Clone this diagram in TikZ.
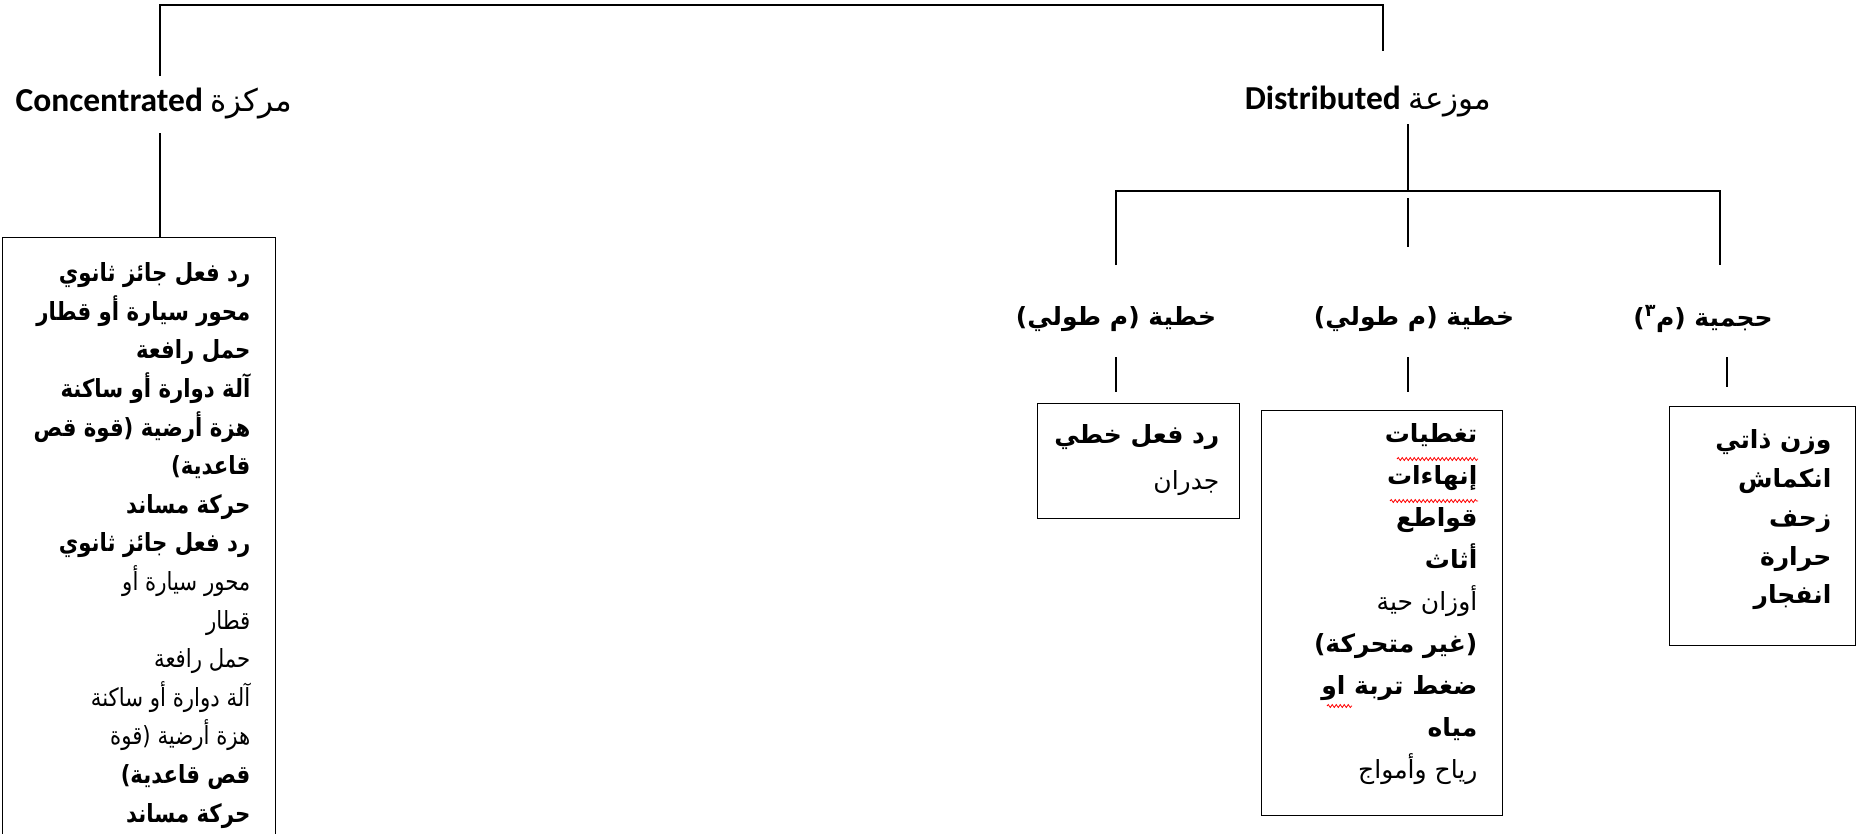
\documentclass[tikz,border=0pt]{standalone}
\usepackage{fontspec}
\setmainfont{Carlito}
\newfontfamily\arfont[Script=Arabic]{DejaVu Sans}
\newfontfamily\arnarrow[Script=Arabic, FakeStretch=0.85]{DejaVu Sans}
\TeXXeTstate=1
\usetikzlibrary{positioning,decorations.pathmorphing}
\newcommand\rl[1]{\beginR#1\endR}
\newcommand\headar[1]{{\arfont\mdseries\fontsize{31}{33}\selectfont\rl{#1}}}

\tikzset{
  head/.style={inner sep=0pt, font=\bfseries\fontsize{33.5}{38}\selectfont},
  tag/.style={inner sep=0pt, font=\arfont\bfseries\fontsize{25}{30}\selectfont},
  listbox/.style={draw, anchor=north west, inner sep=0pt},
  items/.style={inner sep=0pt, anchor=north east, align=right,
    font=\arfont\fontsize{25}{#1}\selectfont},
  items/.default=38,
  spell/.style={red, line width=0.8pt, decorate,
    decoration={snake, amplitude=1.5pt, segment length=4pt}},
}

\begin{document}
\begin{tikzpicture}[x=1pt, y=-1pt, line width=1.3pt]
	\useasboundingbox (0,0) rectangle (1858,833);
	
	% headings
	\node[head] (conc) at (154,104) {Concentrated \headar{مركزة}};
	\node[head] (dist) at (1368,102) {Distributed \headar{موزعة}};
	
	% kinds of distributed load
	\node[tag] (lin1) at (1116,319) {\rl{خطية (م طولي)}};
	\node[tag] (lin2) at (1414,319) {\rl{خطية (م طولي)}};
	\node[tag] (vol) at (1703,319) {\rl{حجمية (م\textsuperscript{٣})}};
	
	% boxes
	\node[listbox, minimum width=273pt, minimum height=640pt] (concbox) at (2,237) {};
	\node[listbox, minimum width=202pt, minimum height=115pt] (linbox1) at (1037,403) {};
	\node[listbox, minimum width=241pt, minimum height=405pt] (linbox2) at (1261,410) {};
	\node[listbox, minimum width=186pt, minimum height=239pt] (volbox) at (1669,406) {};
	
	\node[items, font={\arnarrow\fontsize{25}{38.6}\selectfont}] (conclist) at (251,262) {%
		\textbf{\rl{رد فعل جائز ثانوي}}\\
		\textbf{\rl{محور سيارة أو قطار}}\\
		\textbf{\rl{حمل رافعة}}\\
		\textbf{\rl{آلة دوارة أو ساكنة}}\\
		\textbf{\rl{هزة أرضية (قوة قص}}\\
		\textbf{\rl{قاعدية)}}\\
		\textbf{\rl{حركة مساند}}\\
		\textbf{\rl{رد فعل جائز ثانوي}}\\
		\rl{محور سيارة أو}\\
		\rl{قطار}\\
		\rl{حمل رافعة}\\
		\rl{آلة دوارة أو ساكنة}\\
		\rl{هزة أرضية (قوة}\\
		\textbf{\rl{قص قاعدية)}}\\
		\textbf{\rl{حركة مساند}}};
	\node[items=46] (linlist1) at (1220,424) {%
		\textbf{\rl{رد فعل خطي}}\\
		\rl{جدران}};
	\node[items=42] (linlist2) at (1478,423) {%
		\textbf{\rl{تغطيات}}\\
		\textbf{\rl{إنهاءات}}\\
		\textbf{\rl{قواطع}}\\
		\textbf{\rl{أثاث}}\\
		\rl{أوزان حية}\\
		\textbf{\rl{(غير متحركة)}}\\
		\textbf{\rl{ضغط تربة او}}\\
		\textbf{\rl{مياه}}\\
		\rl{رياح وأمواج}};
	\node[items=38.8] (vollist) at (1832,429) {%
		\textbf{\rl{وزن ذاتي}}\\
		\textbf{\rl{انكماش}}\\
		\textbf{\rl{زحف}}\\
		\textbf{\rl{حرارة}}\\
		\textbf{\rl{انفجار}}};
	
	% connectors
	\coordinate (top) at (0,5);
	\coordinate (bar) at (0,191);
	\coordinate (c0) at ([xshift=6pt,yshift=28pt]conc.center);
	\coordinate (c1) at ([xshift=6pt,yshift=-29pt]conc.center);
	\coordinate (d0) at ([xshift=15pt,yshift=51pt]dist.center);
	\coordinate (d1) at ([xshift=40pt,yshift=-22pt]dist.center);
	\draw (c0) -- (c0 |- top) -| (d0);
	\draw (c1) -- (c1 |- concbox.north);
	\draw (d1) -- (d1 |- bar);
	\draw ([yshift=54pt]lin1.center) |- (d1 |- bar) -| ([yshift=54pt,xshift=17pt]vol.center);
	\draw ([yshift=121pt]lin2.center -| d1) -- ([yshift=72pt]lin2.center -| d1);
	\draw ([yshift=-38pt]lin1.center) -- ([yshift=-73pt]lin1.center);
	\draw ([yshift=-38pt,xshift=-6pt]lin2.center) -- ([yshift=-73pt,xshift=-6pt]lin2.center);
	\draw ([yshift=-38pt,xshift=24pt]vol.center) -- ([yshift=-68pt,xshift=24pt]vol.center);
	
	% spelling marks
	\draw[spell] (1397,459) -- (1478,459);
	\draw[spell] (1390,501) -- (1478,501);
	\draw[spell] (1327,706) -- (1352,706);
\end{tikzpicture}
\end{document}
